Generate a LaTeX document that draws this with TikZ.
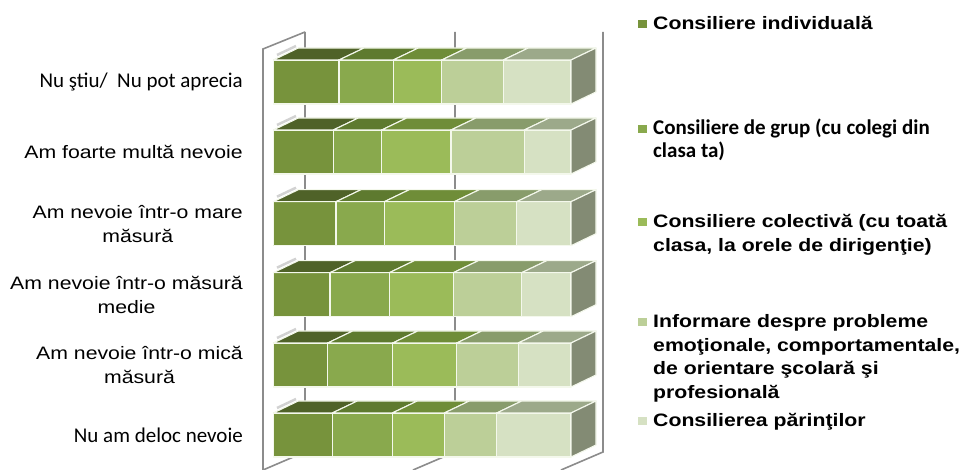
\documentclass[tikz,border=0pt]{standalone}
\usepackage{fontspec}
\newfontfamily\arialfont[FakeStretch=1.18]{Liberation Sans}
\newfontfamily\calfont{Carlito}

\definecolor{frontA}{HTML}{77933C}
\definecolor{frontB}{HTML}{89A94D}
\definecolor{frontC}{HTML}{9BBB59}
\definecolor{frontD}{HTML}{BCCF98}
\definecolor{frontE}{HTML}{D6E1C3}
\definecolor{topA}{HTML}{4F6228}
\definecolor{topB}{HTML}{5E7A2F}
\definecolor{topC}{HTML}{6F8D38}
\definecolor{topD}{HTML}{889C6B}
\definecolor{topE}{HTML}{9CA98A}
\definecolor{sidegray}{HTML}{838B74}
\definecolor{wallgray}{HTML}{8C8C8C}
\definecolor{edgewhite}{HTML}{F4F8EC}

\tikzset{
    wall/.style={draw=wallgray, line width=1.6pt},
    segedge/.style={draw=edgewhite, line width=1.1pt, line join=round},
    glint/.style={draw=gray!35, line width=2.5pt},
    rowlabel/.style={font=\arialfont\fontsize{18}{24}\selectfont, align=center, anchor=east, inner sep=0pt},
    rowlabelcal/.style={rowlabel, font=\calfont\fontsize{21}{24}\selectfont},
    legsq/.style={rectangle, draw=white, line width=0.6pt, minimum width=10pt, minimum height=9pt, inner sep=0pt},
    legtext/.style={font=\arialfont\bfseries\fontsize{18}{23.5}\selectfont, align=left, anchor=base west, inner sep=0pt},
    legtextcal/.style={legtext, font=\calfont\bfseries\fontsize{21}{22.5}\selectfont}
}

\begin{document}
\begin{tikzpicture}[x=1pt, y=-1pt]
    \useasboundingbox (0,0) rectangle (962,470);

    % walls and floor
    \draw[wall] (263,470) -- (263,49) -- (305,32);
    \foreach \x in {305,455,603}
        \draw[wall] (\x,32) -- (\x,452) -- (\x-42,470);

    % bars: front top y and inner boundaries
    \foreach \top/\a/\b/\c/\d in {60/339/393.3/441.7/503.3,
                                  130/333.3/381.7/451/524.3,
                                  201.7/336/384.3/454.3/516.7,
                                  272.7/330/389.3/453.3/521.7,
                                  343/327.7/392.7/456.7/518.3,
                                  413/332.3/392.3/444.3/496.7}{
        \foreach \l/\r/\s in {273.3/\a/A, \a/\b/B, \b/\c/C, \c/\d/D, \d/571/E}{
            \filldraw[segedge, fill=front\s] (\l,\top) rectangle (\r,\top+44);
            \filldraw[segedge, fill=top\s] (\l,\top) -- (\r,\top) -- (\r+25,\top-12) -- (\l+25,\top-12) -- cycle;
        }
        \filldraw[segedge, fill=sidegray] (571,\top) -- (596,\top-12) -- (596,\top+32) -- (571,\top+44) -- cycle;
        \draw[glint] (277,\top-5) -- (296,\top-14);
    }

    % category labels
    \node[rowlabelcal] (nustiu) at (243,82) {Nu ştiu/\ \ Nu pot aprecia};
    \node[rowlabel] (foarte) at (243,152) {Am foarte multă nevoie};
    \node[rowlabel] (mare) at (243,223.7) {Am nevoie într-o mare\\măsură};
    \node[rowlabel] (medie) at (243,294.7) {Am nevoie într-o măsură\\medie};
    \node[rowlabel] (mica) at (243,365) {Am nevoie într-o mică\\măsură};
    \node[rowlabelcal] (deloc) at (243,435) {Nu am deloc nevoie};

    % legend (base = last line)
    \node[legsq, fill=frontA] (sqA) at (642,23.5) {};
    \node[legsq, fill=frontB] (sqB) at (642,128.5) {};
    \node[legsq, fill=frontC] (sqC) at (642,221.5) {};
    \node[legsq, fill=frontD] (sqD) at (642,321.5) {};
    \node[legsq, fill=frontE] (sqE) at (642,420.5) {};
    \node[legtext] (legA) at (653,30) {Consiliere individuală};
    \node[legtextcal] (legB) at (653,157.5) {Consiliere de grup (cu colegi din\\clasa ta)};
    \node[legtext] (legC) at (653,251.5) {Consiliere colectivă (cu toată\\clasa, la orele de dirigenţie)};
    \node[legtext] (legD) at (653,398.5) {Informare despre probleme\\emoţionale, comportamentale,\\de orientare şcolară şi\\profesională};
    \node[legtext] (legE) at (653,427) {Consilierea părinţilor};
\end{tikzpicture}
\end{document}
